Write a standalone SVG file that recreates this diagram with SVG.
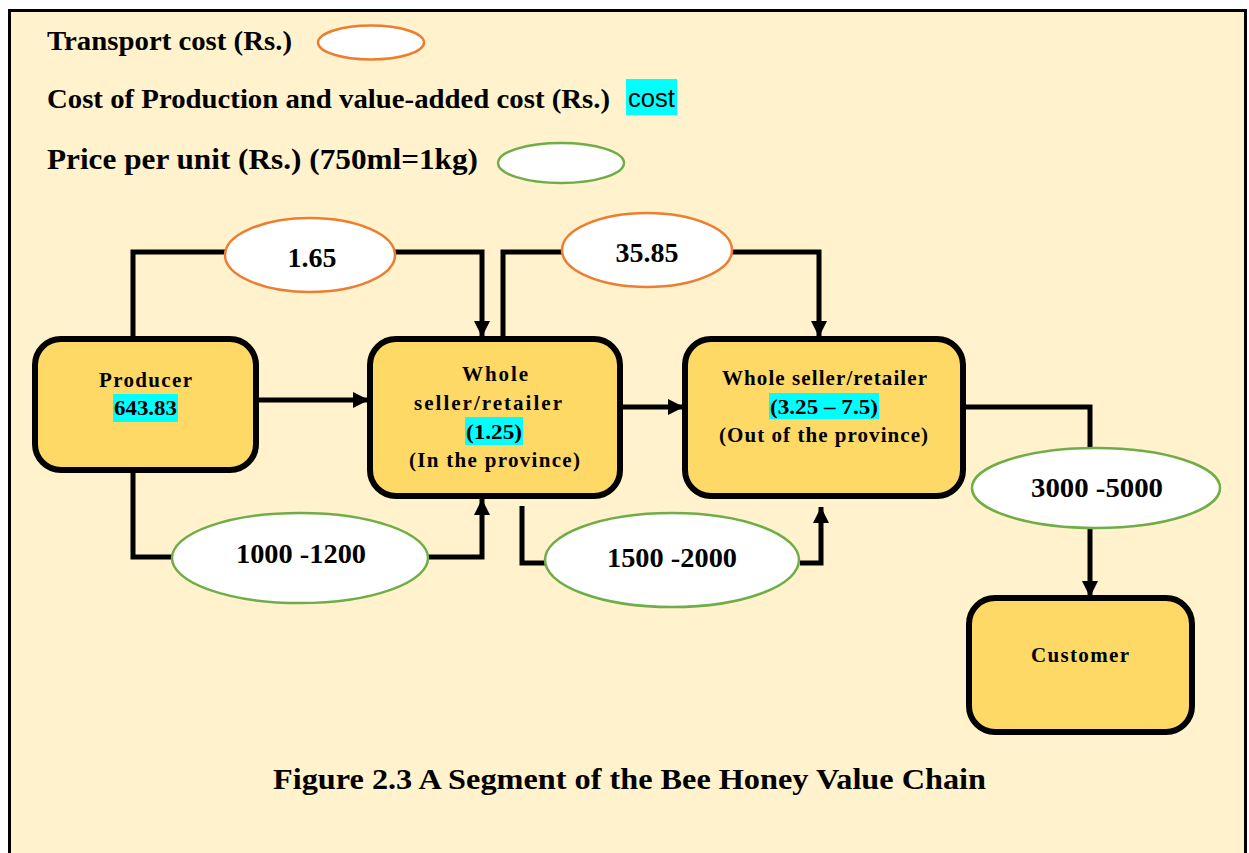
<svg xmlns="http://www.w3.org/2000/svg" width="1249" height="853" viewBox="0 0 1249 853">
<style>
.t{font-family:"Liberation Serif","Times New Roman",serif;font-weight:bold;fill:#000}
.node{fill:#FFD966;stroke:#000;stroke-width:6}
.hl{fill:#00FFFF}
.oe{fill:#fff;stroke:#ED7D31;stroke-width:2.5}
.ge{fill:#fff;stroke:#70AD47;stroke-width:2.5}
.c{fill:none;stroke:#000;stroke-width:5;stroke-linejoin:miter}
.nt{font-size:21px}
.et{font-size:28px}
</style>
<defs>
<marker id="ah" markerUnits="userSpaceOnUse" markerWidth="18" markerHeight="18" refX="16" refY="8" orient="auto">
<path d="M0,0 L16,8 L0,16 Z" fill="#000"/>
</marker>
</defs>
<rect x="0" y="0" width="1249" height="853" fill="#fff"/>
<rect x="9.5" y="10.5" width="1236" height="900" fill="#FFF2CC" stroke="#000" stroke-width="3"/>

<g id="legend">
<text class="t" x="47" y="50" font-size="27" textLength="245" lengthAdjust="spacingAndGlyphs">Transport cost (Rs.)</text>
<ellipse class="oe" cx="371" cy="42.5" rx="53" ry="17"/>
<text class="t" x="47" y="108" font-size="27" textLength="563" lengthAdjust="spacingAndGlyphs">Cost of Production and value-added cost (Rs.)</text>
<rect class="hl" x="626" y="79" width="51" height="36"/>
<text x="628" y="107" font-family="Liberation Sans,Arial,sans-serif" font-size="25" textLength="47" lengthAdjust="spacingAndGlyphs">cost</text>
<text class="t" x="47" y="169" font-size="30" textLength="431" lengthAdjust="spacingAndGlyphs">Price per unit (Rs.) (750ml=1kg)</text>
<ellipse class="ge" cx="561" cy="163" rx="63" ry="20"/>
</g>

<g id="connectors">
<polyline class="c" points="133,338 133,252 225,252"/>
<polyline class="c" points="395,252 482,252 482,337" marker-end="url(#ah)"/>
<polyline class="c" points="133,470 133,557 172,557"/>
<polyline class="c" points="428,557 482,557 482,499" marker-end="url(#ah)"/>
<polyline class="c" points="256,400 369,400" marker-end="url(#ah)"/>
<polyline class="c" points="503,338 503,252 562,252"/>
<polyline class="c" points="732,252 819,252 819,337" marker-end="url(#ah)"/>
<polyline class="c" points="620,407 684,407" marker-end="url(#ah)"/>
<polyline class="c" points="522,506 522,563 545,563"/>
<polyline class="c" points="800,563 821,563 821,507" marker-end="url(#ah)"/>
<polyline class="c" points="939,407 1090,407 1090,448"/>
<polyline class="c" points="1090,527 1090,597" marker-end="url(#ah)"/>
</g>

<g id="e165"><ellipse class="oe" cx="310" cy="255" rx="85" ry="37"/><text class="t et" x="312" y="267" text-anchor="middle">1.65</text></g>
<g id="e3585"><ellipse class="oe" cx="647" cy="250" rx="85" ry="37"/><text class="t et" x="647" y="262" text-anchor="middle">35.85</text></g>
<g id="e1000"><ellipse class="ge" cx="300" cy="558" rx="128" ry="45"/><text class="t et" x="301" y="563" text-anchor="middle" textLength="130" lengthAdjust="spacingAndGlyphs">1000 -1200</text></g>
<g id="e1500"><ellipse class="ge" cx="672" cy="560" rx="127" ry="47"/><text class="t et" x="672" y="567" text-anchor="middle" textLength="130" lengthAdjust="spacingAndGlyphs">1500 -2000</text></g>
<g id="e3000"><ellipse class="ge" cx="1096" cy="488" rx="124" ry="40"/><text class="t et" x="1097" y="497" text-anchor="middle" textLength="132" lengthAdjust="spacingAndGlyphs">3000 -5000</text></g>

<g id="producer">
<rect class="node" x="35" y="339" width="221" height="131" rx="26"/>
<text class="t nt" x="145.5" y="387" text-anchor="middle" textLength="93" lengthAdjust="spacing">Producer</text>
<rect class="hl" x="113" y="394" width="65" height="28"/>
<text class="t nt" x="145.5" y="415" text-anchor="middle" textLength="63" lengthAdjust="spacingAndGlyphs">643.83</text>
</g>

<g id="wholesaler1">
<rect class="node" x="370" y="339" width="250" height="157" rx="26"/>
<text class="t nt" x="495" y="381" text-anchor="middle" textLength="66" lengthAdjust="spacing">Whole</text>
<text class="t nt" x="488" y="410" text-anchor="middle" textLength="148" lengthAdjust="spacing">seller/retailer</text>
<rect class="hl" x="465" y="417" width="58" height="28"/>
<text class="t nt" x="494" y="439" text-anchor="middle" textLength="56" lengthAdjust="spacingAndGlyphs">(1.25)</text>
<text class="t nt" x="494.5" y="467" text-anchor="middle" textLength="171" lengthAdjust="spacing">(In the province)</text>
</g>

<g id="wholesaler2">
<rect class="node" x="685" y="339" width="278" height="157" rx="26"/>
<text class="t nt" x="824.5" y="385" text-anchor="middle" textLength="205" lengthAdjust="spacing">Whole seller/retailer</text>
<rect class="hl" x="769" y="393" width="110" height="26"/>
<text class="t nt" x="824" y="414" text-anchor="middle" textLength="108" lengthAdjust="spacingAndGlyphs">(3.25 – 7.5)</text>
<text class="t nt" x="823.5" y="442" text-anchor="middle" textLength="209" lengthAdjust="spacing">(Out of the province)</text>
</g>

<g id="customer">
<rect class="node" x="969" y="598" width="223" height="134" rx="26"/>
<text class="t nt" x="1080" y="662" text-anchor="middle" textLength="98" lengthAdjust="spacing">Customer</text>
</g>

<text class="t" x="629.5" y="789" font-size="29" text-anchor="middle" textLength="713" lengthAdjust="spacingAndGlyphs">Figure 2.3 A Segment of the Bee Honey Value Chain</text>
</svg>
